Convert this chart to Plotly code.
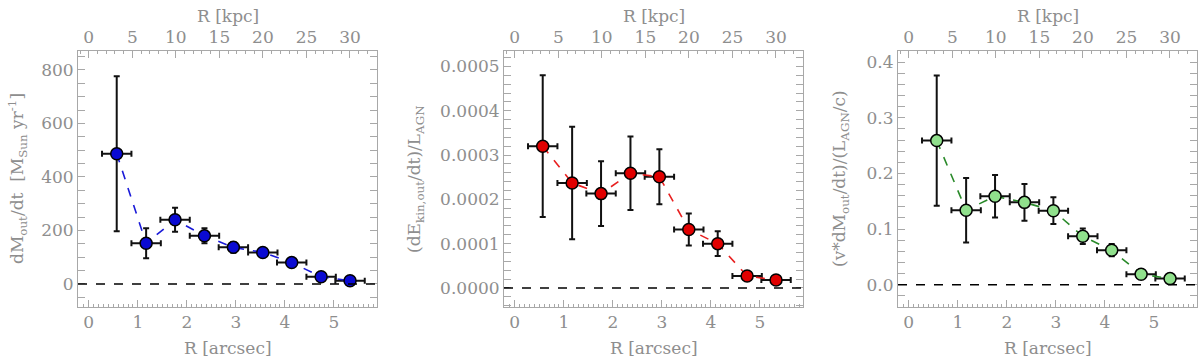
import numpy as np
import plotly.graph_objects as go

# radial bins (arcsec) and half-width of each bin
R_ARCSEC = [0.57, 1.17, 1.76, 2.36, 2.95, 3.55, 4.14, 4.74, 5.33]
R_ERR = [0.3, 0.3, 0.3, 0.3, 0.3, 0.3, 0.3, 0.3, 0.3]
KPC_PER_ARCSEC = 5.63

# mass outflow rate [Msun/yr]
MDOT = [487, 152, 240, 180, 137, 118, 80, 27, 12]
MDOT_ERR = [290, 56, 45, 28, 20, 11, 8, 6, 5]

# kinetic power / L_AGN
EKIN = [0.000320, 0.000237, 0.000213, 0.000259, 0.000251, 0.000132, 0.000100, 0.000027, 0.000018]
EKIN_ERR = [0.000160, 0.000127, 0.000073, 0.000083, 0.000062, 0.000036, 0.000028, 0.000009, 0.000005]

# momentum rate / (L_AGN/c)
PDOT = [0.259, 0.134, 0.159, 0.148, 0.133, 0.087, 0.062, 0.019, 0.011]
PDOT_ERR = [0.117, 0.058, 0.038, 0.033, 0.024, 0.014, 0.011, 0.004, 0.003]

panels = [
	dict(y=MDOT, err=MDOT_ERR, fill='#0a0ad2', line='#1a1ad8', yrange=[-86, 871], dtick=200, minor=50,
		fmt='d', title='dM<sub>out</sub>/dt  [M<sub>Sun</sub> yr<sup>-1</sup>]', dom=[78, 377], tx=17),
	dict(y=EKIN, err=EKIN_ERR, fill='#e00000', line='#e82020', yrange=[-0.000043, 0.000535], dtick=0.0001, minor=0.00002,
		fmt='.4f', title='(dE<sub>kin,out</sub>/dt)/L<sub>AGN</sub>', dom=[504, 803], tx=415),
	dict(y=PDOT, err=PDOT_ERR, fill='#90e08c', line='#2a8a2a', yrange=[-0.04, 0.42], dtick=0.1, minor=0.02,
		fmt='.1f', title='(v*dM<sub>out</sub>/dt)/(L<sub>AGN</sub>/c)', dom=[898, 1197], tx=840),
]

W, H = 1200, 360
XRANGE = [-0.22, 5.88]
grey = '#8e8e8e'
axcol = '#a8a8a8'
font = dict(family='DejaVu Serif', size=17, color=grey)

fig = go.Figure()
layout = {}
annots = []
shapes = []

for i, p in enumerate(panels):
	n = i + 1
	suf = '' if n == 1 else str(n)
	xb = 'x' + suf
	yy = 'y' + suf
	xt = 'x%d' % (n + 3)
	dom = [p['dom'][0] / W, p['dom'][1] / W]

	# the data
	fig.add_trace(go.Scatter(
		x=R_ARCSEC, y=p['y'], xaxis=xb, yaxis=yy, mode='lines+markers',
		line=dict(color=p['line'], width=1.6, dash='dash'),
		marker=dict(size=12, color=p['fill'], line=dict(color='black', width=1.5)),
		error_x=dict(type='data', array=R_ERR, color='#111111', thickness=2, width=3),
		error_y=dict(type='data', array=p['err'], color='#111111', thickness=2, width=3),
		showlegend=False, hoverinfo='skip'))

	# invisible trace so the kpc axis gets drawn
	fig.add_trace(go.Scatter(
		x=np.array(R_ARCSEC) * KPC_PER_ARCSEC, y=p['y'], xaxis=xt, yaxis=yy,
		mode='markers', marker=dict(opacity=0), showlegend=False, hoverinfo='skip'))

	layout['xaxis' + suf] = dict(
		domain=dom, anchor=yy, range=XRANGE, dtick=1, tick0=0, ticks='inside', ticklen=7,
		tickcolor=axcol, showline=True, linecolor=axcol, linewidth=1, mirror=False,
		showgrid=False, zeroline=False, tickfont=font,
		minor=dict(dtick=0.1, ticks='inside', ticklen=3, tickcolor=axcol))
	layout['xaxis%d' % (n + 3)] = dict(
		overlaying=xb, anchor=yy, side='top',
		range=[XRANGE[0] * KPC_PER_ARCSEC, XRANGE[1] * KPC_PER_ARCSEC],
		dtick=5, tick0=0, ticks='inside', ticklen=7, tickcolor=axcol,
		showline=True, linecolor=axcol, linewidth=1, showgrid=False, zeroline=False,
		tickfont=font, minor=dict(dtick=1, ticks='inside', ticklen=3, tickcolor=axcol))
	layout['yaxis' + suf] = dict(
		domain=[1 - 307 / H, 1 - 51 / H], anchor=xb, range=p['yrange'], dtick=p['dtick'], tick0=0,
		tickformat=p['fmt'], ticks='inside', ticklen=7, tickcolor=axcol,
		showline=True, linecolor=axcol, linewidth=1, mirror='allticks',
		showgrid=False, zeroline=False, tickfont=font,
		minor=dict(dtick=p['minor'], ticks='inside', ticklen=3, tickcolor=axcol))

	# zero line
	shapes.append(dict(type='line', xref=xb + ' domain', yref=yy, x0=0, x1=1, y0=0, y1=0,
		line=dict(color='black', width=1.6, dash='dash')))

	# axis titles
	annots.append(dict(text=p['title'], x=p['tx'] / W, y=1 - 179 / H, xref='paper', yref='paper',
		textangle=-90, showarrow=False, xanchor='center', yanchor='middle', font=font))
	cx = (p['dom'][0] + p['dom'][1]) / 2 / W
	annots.append(dict(text='R [arcsec]', x=cx, y=1 - 348 / H, xref='paper', yref='paper',
		showarrow=False, xanchor='center', yanchor='middle', font=font))
	annots.append(dict(text='R [kpc]', x=cx, y=1 - 16 / H, xref='paper', yref='paper',
		showarrow=False, xanchor='center', yanchor='middle', font=font))

fig.update_layout(**layout)
fig.update_layout(width=W, height=H, margin=dict(l=0, r=0, t=0, b=0),
	paper_bgcolor='white', plot_bgcolor='white', annotations=annots, shapes=shapes,
	font=font)

# the page's default body margin would push the figure 8px off
fig.write_html("out.html", config={'displayModeBar': False},
	post_script="document.body.style.margin='0';")
